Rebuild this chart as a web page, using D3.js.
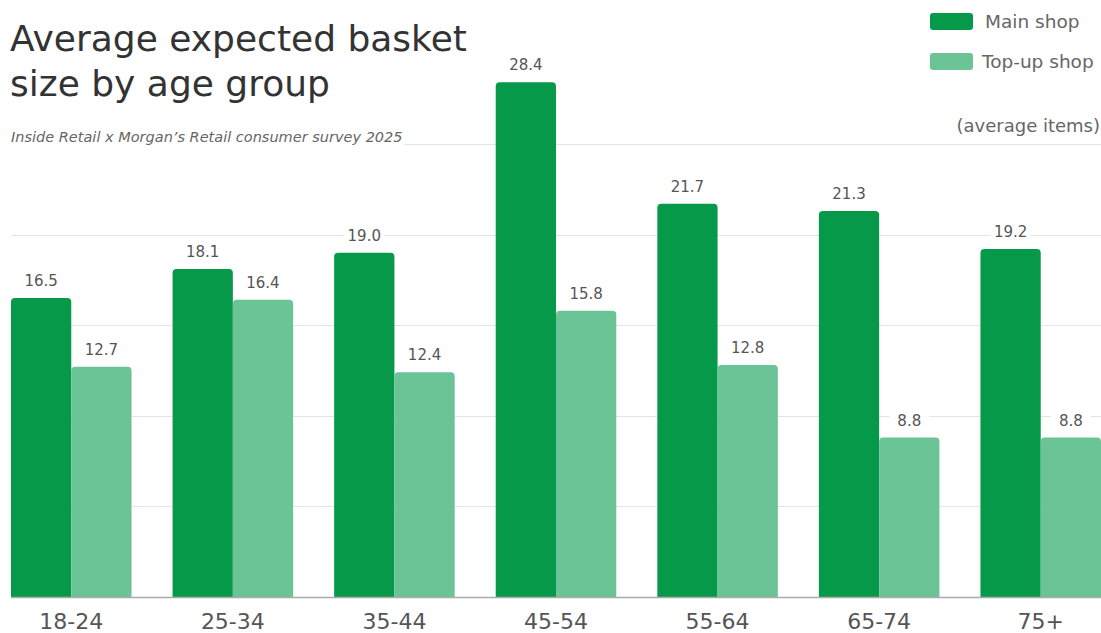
<!DOCTYPE html>
<html>
<head>
<meta charset="utf-8">
<script src="https://cdn.jsdelivr.net/npm/d3@7"></script>
<style>
  html, body { margin: 0; padding: 0; background: #fff; }
  svg { display: block; font-family: "DejaVu Sans", sans-serif; }
</style>
</head>
<body>
<svg id="chart" width="1101" height="633"></svg>
<script>
// Age groups and expected basket size (average items) per shop type
const ageGroups = ["18-24", "25-34", "35-44", "45-54", "55-64", "65-74", "75+"];
const mainShop = [16.5, 18.1, 19.0, 28.4, 21.7, 21.3, 19.2];
const topUpShop = [12.7, 16.4, 12.4, 15.8, 12.8, 8.8, 8.8];
const seriesNames = ["Main shop", "Top-up shop"];
const gridTicks = [5, 10, 15, 20, 25];

const colors = { "Main shop": "#07994a", "Top-up shop": "#6bc495" };

const W = 1101, H = 633;
const plot = { left: 11, right: 1101, bottom: 597 };

const svg = d3.select("#chart");

const x0 = d3.scaleBand().domain(ageGroups).range([plot.left, plot.right])
  .paddingInner(0.254).paddingOuter(0);
const x1 = d3.scaleBand().domain(seriesNames).range([0, x0.bandwidth()]).padding(0);
const y = d3.scaleLinear().domain([0, 28.4]).range([plot.bottom, 82.3]);

const rows = ageGroups.map((g, i) => ({
  group: g,
  values: [
    { series: "Main shop", value: mainShop[i] },
    { series: "Top-up shop", value: topUpShop[i] }
  ]
}));

// Horizontal gridlines
svg.append("g").selectAll("line").data(gridTicks).join("line")
  .attr("x1", plot.left).attr("x2", plot.right)
  .attr("y1", d => Math.round(y(d)) + 0.5).attr("y2", d => Math.round(y(d)) + 0.5)
  .attr("stroke", "#e4e4e4").attr("stroke-width", 1);

// Bar with rounded top corners
function barPath(x, w, yTop, yBot, r) {
  r = Math.min(r, w / 2, (yBot - yTop));
  return `M${x},${yBot}V${yTop + r}Q${x},${yTop} ${x + r},${yTop}H${x + w - r}Q${x + w},${yTop} ${x + w},${yTop + r}V${yBot}Z`;
}

const groups = svg.append("g").selectAll("g").data(rows).join("g")
  .attr("transform", d => `translate(${x0(d.group)},0)`);

groups.selectAll("path").data(d => d.values).join("path")
  .attr("d", d => barPath(x1(d.series), x1.bandwidth(), y(d.value), plot.bottom, 4))
  .attr("fill", d => colors[d.series]);

// Value labels on a white plate so gridlines don't run through them
const labels = groups.selectAll("g.lab").data(d => d.values).join("g").attr("class", "lab");
labels.append("rect")
  .attr("x", d => x1(d.series) + x1.bandwidth() / 2 - 20)
  .attr("y", d => y(d.value) - 30)
  .attr("width", 40).attr("height", 24)
  .attr("fill", "#fff");
labels.append("text")
  .attr("x", d => x1(d.series) + x1.bandwidth() / 2)
  .attr("y", d => y(d.value) - 12)
  .attr("text-anchor", "middle")
  .attr("font-size", 15)
  .attr("fill", "#555")
  .text(d => d.value.toFixed(1));

// Baseline
svg.append("line")
  .attr("x1", plot.left).attr("x2", plot.right)
  .attr("y1", plot.bottom + 0.5).attr("y2", plot.bottom + 0.5)
  .attr("stroke", "#aaa").attr("stroke-width", 1.5);

// Category axis labels
const xAxis = svg.append("g")
  .attr("transform", `translate(0,${plot.bottom})`)
  .call(d3.axisBottom(x0).tickSize(0).tickPadding(0));
xAxis.select(".domain").remove();
xAxis.selectAll("text")
  .attr("y", 32).attr("dy", null)
  .attr("font-size", 22).attr("font-family", "DejaVu Sans, sans-serif")
  .attr("fill", "#555");

// Title and subtitle
const title = svg.append("text").attr("x", 10).attr("y", 51)
  .attr("font-size", 36).attr("fill", "#333");
title.append("tspan").attr("x", 10).text("Average expected basket");
title.append("tspan").attr("x", 10).attr("y", 96).text("size by age group");

const sub = svg.append("text").attr("x", 11).attr("y", 142)
  .attr("font-size", 14.5).attr("font-style", "italic").attr("fill", "#666")
  .text("Inside Retail x Morgan’s Retail consumer survey 2025");
const sb = sub.node().getBBox();
svg.insert("rect", () => sub.node()).attr("x", sb.x - 2).attr("y", sb.y).attr("width", sb.width + 4)
  .attr("height", sb.height).attr("fill", "#fff");

// Unit note
svg.append("text").attr("x", 1100).attr("y", 132).attr("text-anchor", "end")
  .attr("font-size", 18).attr("fill", "#666").text("(average items)");

// Legend
const legend = svg.append("g").selectAll("g").data(seriesNames).join("g")
  .attr("transform", (d, i) => `translate(930,${13 + i * 40})`);
legend.append("rect").attr("width", 43).attr("height", 17).attr("rx", 3)
  .attr("fill", d => colors[d]);
legend.append("text").attr("x", d => d === "Main shop" ? 55 : 52).attr("y", 15)
  .attr("font-size", 18.5).attr("fill", "#666").text(d => d);
</script>
</body>
</html>
